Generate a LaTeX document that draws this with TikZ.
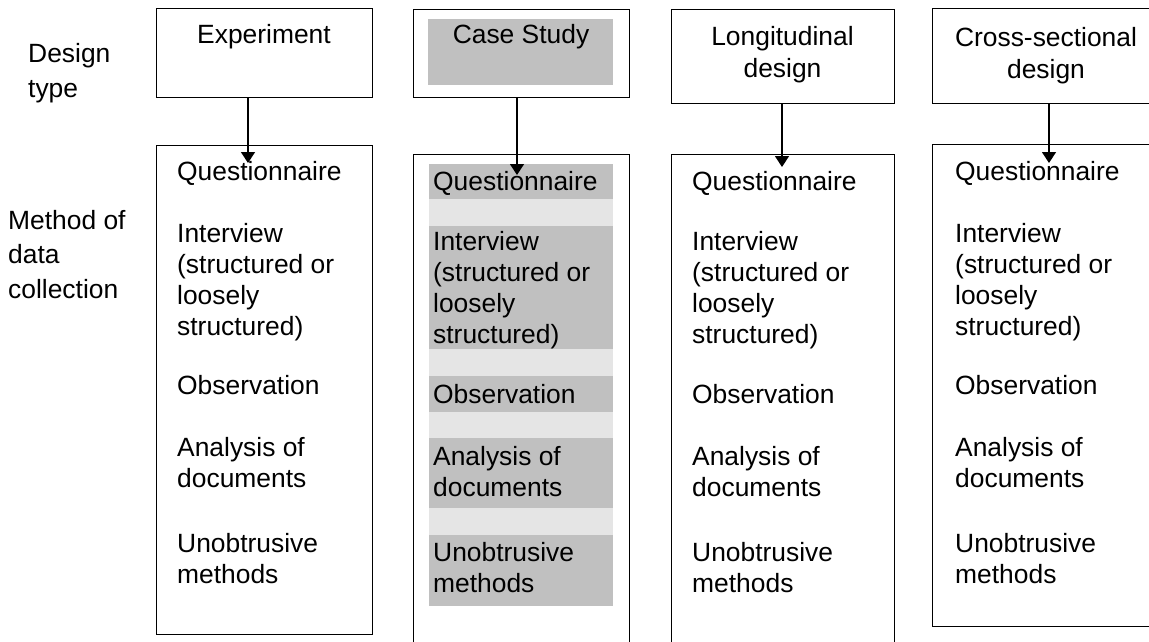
\documentclass[tikz,border=0pt]{standalone}
\usepackage{fontspec}
\setmainfont{Liberation Sans}
\usetikzlibrary{arrows.meta}
\definecolor{rowgrey}{HTML}{C0C0C0}
\definecolor{gapgrey}{HTML}{E5E5E5}
\begin{document}
% multi-line nodes are placed by the baseline of their last line
\begin{tikzpicture}[x=1pt,y=-1pt,
  box/.style={draw=black, line width=1.3pt, rectangle, inner sep=0pt, anchor=north west},
  head/.style={font=\fontsize{26.4}{32}\selectfont, align=center, anchor=base, inner sep=0pt},
  item/.style={font=\fontsize{26.4}{31}\selectfont, align=left, anchor=base west, inner sep=0pt},
  side/.style={font=\fontsize{26.4}{34.5}\selectfont, align=left, anchor=base west, inner sep=0pt},
  arr/.style={-{Triangle[length=11pt,width=14pt]}, line width=1.3pt}
]
\useasboundingbox (0,0) rectangle (1149,641);
\clip (0,0) rectangle (1149,641);

% row labels
\node[side] (lblDesign) at (28,97) {Design\\type};
\node[side] (lblMethod) at (8,298) {Method of\\data\\collection};

% ---- Experiment ----
\node[box, minimum width=216pt, minimum height=89pt] (expTop) at (156,8) {};
\node[head] (expHead) at (264,43) {Experiment};
\node[box, minimum width=216pt, minimum height=489pt] (expLow) at (156,145) {};
\coordinate (expTip) at (248,163);
\draw[arr] (expTop.south -| expTip) -- (expTip);
\node[item] (expQ) at (177,180) {Questionnaire};
\node[item] (expI) at (177,335) {Interview\\(structured or\\loosely\\structured)};
\node[item] (expO) at (177,394) {Observation};
\node[item] (expA) at (177,487) {Analysis of\\documents};
\node[item] (expU) at (177,583) {Unobtrusive\\methods};

% ---- Case Study ----
\node[box, minimum width=216pt, minimum height=88pt] (csTop) at (413,9) {};
\fill[rowgrey] (428,19) rectangle (613,85);
\node[head] (csHead) at (521,43) {Case Study};
\node[box, minimum width=216pt, minimum height=500pt] (csLow) at (413,154) {};
\fill[gapgrey] (429,164) rectangle (613,606);
\fill[rowgrey] (429,164) rectangle (613,199);
\fill[rowgrey] (429,226) rectangle (613,349);
\fill[rowgrey] (429,376) rectangle (613,412);
\fill[rowgrey] (429,438) rectangle (613,508);
\fill[rowgrey] (429,535) rectangle (613,606);
\coordinate (csTip) at (517,175);
\draw[arr] (csTop.south -| csTip) -- (csTip);
\node[item] (csQ) at (433,190) {Questionnaire};
\node[item] (csI) at (433,343) {Interview\\(structured or\\loosely\\structured)};
\node[item] (csO) at (433,403) {Observation};
\node[item] (csA) at (433,496) {Analysis of\\documents};
\node[item] (csU) at (433,592) {Unobtrusive\\methods};

% ---- Longitudinal design ----
\node[box, minimum width=223pt, minimum height=94pt] (lgTop) at (671,9) {};
\node[head] (lgHead) at (782.5,77) {Longitudinal\\design};
\node[box, minimum width=223pt, minimum height=500pt] (lgLow) at (671,154) {};
\coordinate (lgTip) at (782,167);
\draw[arr] (lgTop.south -| lgTip) -- (lgTip);
\node[item] (lgQ) at (692,190) {Questionnaire};
\node[item] (lgI) at (692,343) {Interview\\(structured or\\loosely\\structured)};
\node[item] (lgO) at (692,403) {Observation};
\node[item] (lgA) at (692,496) {Analysis of\\documents};
\node[item] (lgU) at (692,592) {Unobtrusive\\methods};

% ---- Cross-sectional design ----
\node[box, minimum width=230pt, minimum height=95pt] (xsTop) at (932,8) {};
\node[head] (xsHead) at (1046,78) {Cross-sectional\\design};
\node[box, minimum width=230pt, minimum height=482pt] (xsLow) at (932,144) {};
\coordinate (xsTip) at (1049,163);
\draw[arr] (xsTop.south -| xsTip) -- (xsTip);
\node[item] (xsQ) at (955,180) {Questionnaire};
\node[item] (xsI) at (955,335) {Interview\\(structured or\\loosely\\structured)};
\node[item] (xsO) at (955,394) {Observation};
\node[item] (xsA) at (955,487) {Analysis of\\documents};
\node[item] (xsU) at (955,583) {Unobtrusive\\methods};
\end{tikzpicture}
\end{document}
